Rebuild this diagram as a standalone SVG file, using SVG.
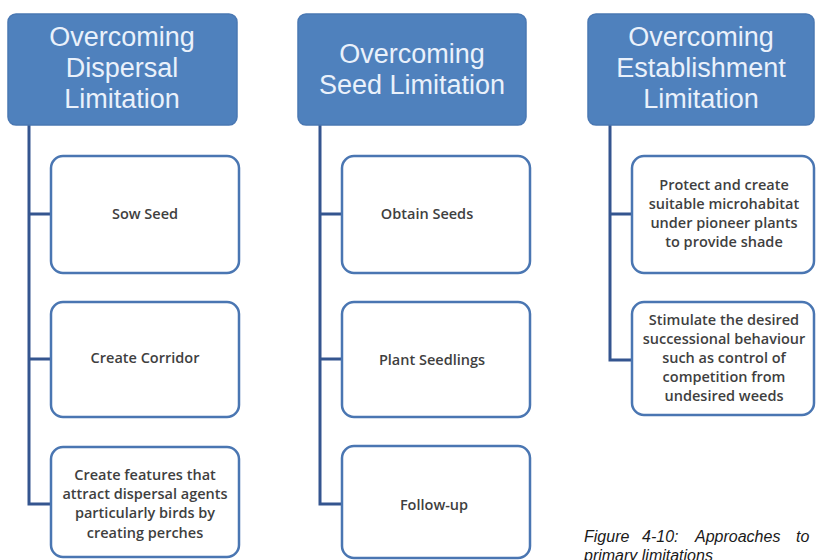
<svg xmlns="http://www.w3.org/2000/svg" width="816" height="560" viewBox="0 0 816 560">
<style>
.hdr{fill:#4f81bd;stroke:#4a78b3;stroke-width:1.5}
.hdt{font-family:"Liberation Sans","Open Sans",sans-serif;font-size:27px;fill:#eaf1fb;text-anchor:middle}
.box{fill:#ffffff;stroke:#4a76b2;stroke-width:2.5}
.bt{font-family:"Open Sans","Liberation Sans",sans-serif;font-size:14.5px;font-weight:600;fill:#3f3f3f;text-anchor:middle}
.con{fill:none;stroke:#34558f;stroke-width:3}
.cap{font-family:"Liberation Sans","Open Sans",sans-serif;font-size:16px;font-style:italic;fill:#1a1a1a}
</style>
<rect width="816" height="560" fill="#ffffff"/>
<g id="connectors">
<path class="con" d="M29 125 V504 H51 M29 214 H51 M29 359 H51"/>
<path class="con" d="M320 125 V504 H342 M320 214 H342 M320 359 H342"/>
<path class="con" d="M610 125 V360 H632 M610 214 H632"/>
</g>
<g id="h1">
<rect class="hdr" x="8" y="14" width="229" height="111" rx="8"/>
<text class="hdt" x="122" y="46">Overcoming</text>
<text class="hdt" x="122" y="77">Dispersal</text>
<text class="hdt" x="122" y="108">Limitation</text>
</g>
<g id="h2">
<rect class="hdr" x="298" y="14" width="228" height="111" rx="8"/>
<text class="hdt" x="412" y="63">Overcoming</text>
<text class="hdt" x="412" y="94">Seed Limitation</text>
</g>
<g id="h3">
<rect class="hdr" x="588" y="14" width="226" height="111" rx="8"/>
<text class="hdt" x="701" y="46">Overcoming</text>
<text class="hdt" x="701" y="77">Establishment</text>
<text class="hdt" x="701" y="108">Limitation</text>
</g>
<g id="d1">
<rect class="box" x="51" y="156" width="188" height="117" rx="12"/>
<text class="bt" x="145" y="219">Sow Seed</text>
</g>
<g id="d2">
<rect class="box" x="51" y="302" width="188" height="115" rx="12"/>
<text class="bt" x="145" y="363">Create Corridor</text>
</g>
<g id="d3">
<rect class="box" x="51" y="447" width="188" height="110" rx="12"/>
<text class="bt" x="145" y="480">Create features that</text>
<text class="bt" x="145" y="499">attract dispersal agents</text>
<text class="bt" x="145" y="518">particularly  birds by</text>
<text class="bt" x="145" y="538">creating perches</text>
</g>
<g id="s1">
<rect class="box" x="342" y="156" width="188" height="117" rx="12"/>
<text class="bt" x="427" y="219">Obtain Seeds</text>
</g>
<g id="s2">
<rect class="box" x="342" y="302" width="188" height="115" rx="12"/>
<text class="bt" x="432" y="365">Plant Seedlings</text>
</g>
<g id="s3">
<rect class="box" x="342" y="446" width="188" height="112" rx="12"/>
<text class="bt" x="434" y="510">Follow-up</text>
</g>
<g id="e1">
<rect class="box" x="632" y="156" width="182" height="117" rx="12"/>
<text class="bt" x="724" y="190">Protect and create</text>
<text class="bt" x="724" y="209">suitable microhabitat</text>
<text class="bt" x="724" y="228">under pioneer plants</text>
<text class="bt" x="724" y="247">to provide shade</text>
</g>
<g id="e2">
<rect class="box" x="632" y="302" width="182" height="113" rx="12"/>
<text class="bt" x="724" y="325">Stimulate the desired</text>
<text class="bt" x="724" y="344">successional behaviour</text>
<text class="bt" x="724" y="363">such as control of</text>
<text class="bt" x="724" y="382">competition from</text>
<text class="bt" x="724" y="401">undesired weeds</text>
</g>
<g id="caption">
<text class="cap" y="542"><tspan x="584">Figure</tspan><tspan x="642">4-10:</tspan><tspan x="695">Approaches</tspan><tspan x="796">to</tspan></text>
<text class="cap" x="584" y="561">primary limitations</text>
</g>
</svg>
